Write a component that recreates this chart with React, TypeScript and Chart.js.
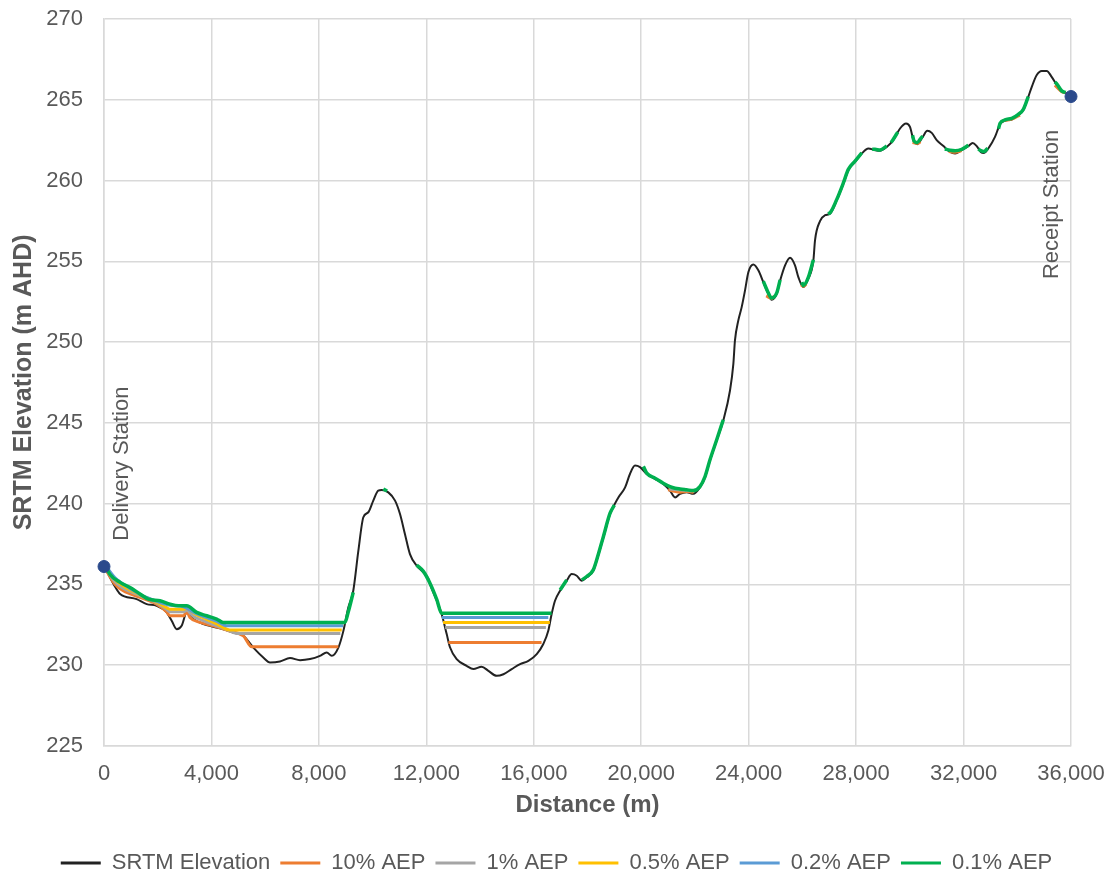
import React, { useEffect, useRef } from "react";
import { Chart, registerables } from "chart.js";
Chart.register(...registerables);

const FONT = '"Liberation Sans", Arial, Helvetica, sans-serif';
const TEXT = "#595959";

type P = [number, number | null];

// SRTM ground profile (distance, elevation)
const srtmD = [0, 430, 600, 1215, 1590, 1960, 2335, 2520, 2707, 2890, 3080, 3325, 3700, 4070, 4440, 4815, 5186, 5560, 5930, 6180, 6550, 6925, 7300, 7670, 8040, 8290, 8478, 8725, 8910, 9095, 9280, 9470, 9655, 9840, 10025, 10210, 10340, 10585, 10835, 11020, 11205, 11390, 11640, 11890, 12075, 12140, 12390, 12570, 12760, 12880, 13130, 13500, 13750, 14060, 14310, 14620, 14870, 15180, 15490, 15800, 16110, 16355, 16540, 16665, 16790, 16980, 17225, 17410, 17600, 17785, 17970, 18215, 18340, 18590, 18840, 19150, 19400, 19580, 19770, 19955, 20205, 20515, 20820, 21070, 21260, 21445, 21690, 21940, 22185, 22375, 22560, 22810, 23055, 23305, 23430, 23490, 23615, 23740, 23865, 23990, 24175, 24360, 24545, 24730, 24855, 25045, 25170, 25355, 25540, 25725, 25850, 26035, 26220, 26410, 26470, 26660, 26845, 27030, 27280, 27525, 27710, 27960, 28210, 28455, 28705, 28890, 29140, 29385, 29635, 29860, 30005, 30155, 30280, 30480, 30650, 30815, 31000, 31250, 31495, 31685, 31930, 32180, 32340, 32490, 32640, 32760, 32960, 33170, 33360, 33545, 33795, 34040, 34225, 34410, 34540, 34725, 34910, 35095, 35280, 35470, 35655, 35840, 36000];
const srtmV = [236.15, 234.8, 234.4, 234.08, 233.77, 233.67, 233.26, 232.74, 232.22, 232.43, 233.26, 232.85, 232.54, 232.37, 232.22, 232.01, 231.81, 231.08, 230.47, 230.16, 230.22, 230.43, 230.3, 230.37, 230.57, 230.78, 230.57, 231.08, 232.1, 233.56, 234.6, 237.08, 239.15, 239.46, 240.18, 240.8, 240.84, 240.69, 240.18, 239.35, 238.1, 236.87, 236.15, 235.74, 235.33, 235.0, 233.98, 233.16, 231.9, 231.1, 230.37, 229.95, 229.75, 229.9, 229.64, 229.33, 229.43, 229.75, 230.06, 230.26, 230.68, 231.3, 232.12, 233.16, 233.98, 234.6, 235.22, 235.63, 235.53, 235.22, 235.43, 235.84, 236.46, 237.9, 239.35, 240.38, 241.0, 241.83, 242.35, 242.25, 241.83, 241.52, 241.21, 240.8, 240.38, 240.6, 240.7, 240.6, 241.0, 241.62, 242.66, 243.9, 245.14, 247.0, 248.65, 250.1, 251.34, 252.16, 253.2, 254.33, 254.8, 254.44, 253.71, 252.99, 252.62, 252.99, 253.8, 254.75, 255.22, 254.75, 254.02, 253.4, 253.92, 255.06, 256.3, 257.5, 257.85, 257.95, 258.78, 259.8, 260.64, 261.15, 261.67, 261.98, 261.88, 261.84, 262.08, 262.5, 263.22, 263.53, 263.32, 262.39, 262.25, 262.7, 263.08, 262.95, 262.5, 262.13, 261.77, 261.67, 261.88, 262.13, 262.33, 262.13, 261.77, 261.71, 262.08, 262.7, 263.49, 263.7, 263.78, 264.05, 264.36, 265.18, 265.8, 266.53, 266.78, 266.78, 266.42, 265.91, 265.49, 265.4, 265.29];

// 10% AEP water surface (null = dry, line break)
const aep10: P[] = [
  [0, 236.1], [410, 235.0], [720, 234.6], [1340, 234.19], [1960, 233.77], [2330, 233.3], [2450, 233.05], [2960, 233.05], [3080, 233.3], [3200, 232.95], [3575, 232.64], [4070, 232.43], [4690, 232.1], [5186, 231.81], [5500, 231.13], [8725, 231.13], [8800, null],
  [12820, 231.4], [16290, 231.4], [16300, null],
  [21000, 240.85], [21445, 240.7], [21700, 240.75], [21950, 240.7], [22000, null],
  [24650, 252.85], [24855, 252.7], [24950, 252.85], [25000, null],
  [25950, 253.55], [26035, 253.45], [26150, 253.6], [26200, null],
  [30100, 262.35], [30280, 262.3], [30400, 262.4], [30450, null],
  [31450, 261.8], [31685, 261.75], [31930, 261.85], [32000, null],
  [33450, 263.7], [33795, 263.8], [34100, 264.05], [34150, null],
  [35400, 265.9], [35655, 265.5], [35800, 265.45], [35850, null],
];

// 1% AEP water surface
const aep1: P[] = [
  [0, 236.2], [410, 235.15], [720, 234.75], [1340, 234.3], [1960, 233.85], [2330, 233.45], [2450, 233.3], [2960, 233.3], [3080, 233.4], [3300, 233.05], [3700, 232.75], [4070, 232.5], [4560, 232.2], [4950, 231.96], [8800, 231.96], [8850, null],
  [12700, 232.33], [16450, 232.33], [16500, null],
  [21050, 240.9], [21900, 240.78], [21950, null],
];

// 0.5% AEP water surface
const aep05: P[] = [
  [0, 236.25], [410, 235.3], [720, 234.9], [1340, 234.35], [1960, 233.9], [2330, 233.55], [2450, 233.46], [2960, 233.46], [3080, 233.5], [3400, 233.15], [3800, 232.85], [4200, 232.55], [4690, 232.17], [8850, 232.17], [8880, null],
  [12620, 232.64], [16600, 232.64], [16620, null],
];

// 0.2% AEP water surface
const aep02: P[] = [
  [0, 236.3], [410, 235.4], [720, 235.0], [1340, 234.38], [1960, 233.95], [2457, 233.7], [2960, 233.6], [3400, 233.22], [3800, 232.95], [4200, 232.7], [4560, 232.43], [8900, 232.43], [8930, null],
  [12580, 232.95], [16540, 232.95], [16560, null],
];

// 0.1% AEP water surface
const aep01: P[] = [
  [0, 236.35], [225, 235.6], [600, 235.12], [970, 234.8], [1340, 234.4], [1650, 234.08], [2085, 233.98], [2457, 233.77], [2770, 233.67], [3080, 233.67], [3450, 233.26], [3825, 233.05], [4195, 232.85], [4440, 232.64], [8970, 232.64], [9095, 233.3], [9280, 234.5], [9300, null],
  [10400, 240.9], [10540, 240.78], [10560, null],
  [11640, 236.2], [11890, 235.8], [12140, 235.05], [12390, 234.05], [12570, 233.2], [16665, 233.2], [16700, null],
  [16980, 234.65], [17225, 235.27], [17300, null],
  [17785, 235.27], [17970, 235.48], [18215, 235.89], [18340, 236.5], [18590, 237.95], [18840, 239.4], [19000, 239.9], [19100, null],
  [20080, 242.3], [20205, 241.88], [20515, 241.57], [20820, 241.26], [21070, 241.05], [21260, 240.95], [21445, 240.9], [21690, 240.85], [21940, 240.8], [22185, 241.05], [22375, 241.67], [22560, 242.71], [22810, 243.95], [23055, 245.19], [23100, null],
  [24545, 253.76], [24730, 253.05], [24855, 252.72], [25045, 253.04], [25170, 253.85], [25200, null],
  [25980, 253.7], [26035, 253.5], [26220, 254.0], [26410, 255.1], [26450, null],
  [26950, 257.95], [27030, 258.0], [27280, 258.83], [27525, 259.85], [27710, 260.69], [27960, 261.2], [28210, 261.72], [28250, null],
  [28600, 261.93], [28705, 261.93], [28890, 261.89], [29140, 262.13], [29180, null],
  [29300, 262.35], [29385, 262.55], [29550, 263.0], [29600, null],
  [30100, 262.8], [30155, 262.45], [30280, 262.35], [30400, 262.6], [30480, 262.75], [30500, null],
  [31300, 261.95], [31495, 261.88], [31685, 261.85], [31930, 261.93], [32180, 262.18], [32200, null],
  [32550, 261.95], [32640, 261.85], [32760, 261.8], [32900, 262.0], [32950, null],
  [33300, 263.2], [33360, 263.54], [33545, 263.75], [33795, 263.85], [34040, 264.1], [34225, 264.41], [34410, 265.2], [34450, null],
  [35400, 266.1], [35470, 265.98], [35655, 265.55], [35800, 265.45], [35850, null],
];

// Stations
const stationNames = ["Delivery Station", "Receipt Station"];
const stationD = [0, 36000];
const stationV = [236.1, 265.2];
const stationLabelV = [237.7, 253.9];

const seriesNames = ["SRTM Elevation", "10% AEP", "1% AEP", "0.5% AEP", "0.2% AEP", "0.1% AEP"];
const seriesColors = ["#222222", "#ED7D31", "#A5A5A5", "#FFC000", "#5B9BD5", "#00B050"];

function pts(d: number[], v: (number | null)[]) {
  return d.map((x, i) => ({ x, y: v[i] }));
}
function pairs(p: P[]) {
  return p.map(([x, y]) => ({ x, y }));
}

const stationPlugin = {
  id: "stationLabels",
  afterDatasetsDraw(chart: any) {
    const { ctx, scales } = chart;
    const xs = scales.x;
    const ys = scales.y;
    ctx.save();
    ctx.fillStyle = TEXT;
    ctx.font = `22px ${FONT}`;
    ctx.textBaseline = "middle";
    ctx.textAlign = "left";
    const offsets = [18, -19];
    stationNames.forEach((name, i) => {
      ctx.save();
      ctx.translate(xs.getPixelForValue(stationD[i]) + offsets[i], ys.getPixelForValue(stationLabelV[i]));
      ctx.rotate(-Math.PI / 2);
      ctx.fillText(name, 0, 0);
      ctx.restore();
    });
    ctx.restore();
  },
};

export default function App() {
  const ref = useRef<HTMLCanvasElement | null>(null);
  useEffect(() => {
    document.body.style.margin = "0";
    const canvas = ref.current;
    if (!canvas) return;
    const series = [
      pts(srtmD, srtmV),
      pairs(aep10),
      pairs(aep1),
      pairs(aep05),
      pairs(aep02),
      pairs(aep01),
    ];
    const widths = [2, 3, 3, 3, 3, 3.5];
    const datasets: any[] = series.map((data, i) => ({
      label: seriesNames[i],
      data,
      borderColor: seriesColors[i],
      backgroundColor: seriesColors[i],
      borderWidth: widths[i],
      pointRadius: 0,
      cubicInterpolationMode: "monotone",
      spanGaps: false,
      order: 10 - i,
    }));
    datasets.push({
      type: "scatter",
      label: "Stations",
      data: pts(stationD, stationV),
      backgroundColor: "#2B4A8C",
      borderColor: "#2B4A8C",
      pointRadius: 6,
      showLine: false,
      clip: false,
      order: 0,
    });
    const chart = new Chart(canvas, {
      type: "line",
      data: { datasets },
      plugins: [stationPlugin],
      options: {
        responsive: false,
        animation: false,
        devicePixelRatio: 1,
        layout: { padding: { top: 0, right: 0, bottom: -3, left: 0 } },
        plugins: {
          tooltip: { enabled: false },
          legend: {
            position: "bottom",
            labels: {
              color: TEXT,
              font: { family: FONT, size: 22 },
              boxWidth: 40,
              boxHeight: 3,
              padding: 10,
              generateLabels: (c: any) =>
                c.data.datasets
                  .map((ds: any, i: number) => ({
                    text: ds.label,
                    fillStyle: ds.borderColor,
                    strokeStyle: ds.borderColor,
                    lineWidth: 0,
                    fontColor: TEXT,
                    datasetIndex: i,
                    hidden: false,
                  }))
                  .filter((it: any) => it.datasetIndex < seriesNames.length),
            },
          },
        },
        scales: {
          x: {
            type: "linear",
            min: 0,
            max: 36000,
            afterFit: (s: any) => {
              s.paddingLeft = 0;
              s.paddingRight = 42;
            },
            ticks: {
              stepSize: 4000,
              color: TEXT,
              font: { family: FONT, size: 22 },
              padding: 14.5,
              maxRotation: 0,
              callback: (v: any) => Number(v).toLocaleString("en-US"),
            },
            grid: { color: "#D9D9D9", lineWidth: 1.5, drawTicks: false },
            border: { color: "#D9D9D9", width: 1.5 },
            title: {
              display: true,
              text: "Distance (m)",
              color: TEXT,
              font: { family: FONT, size: 24, weight: "bold" },
              padding: { top: -10, bottom: 22 },
            },
          },
          y: {
            min: 225,
            max: 270,
            afterFit: (s: any) => {
              s.width = 104;
              s.paddingTop = 19;
              s.paddingBottom = 0;
            },
            ticks: {
              stepSize: 5,
              color: TEXT,
              font: { family: FONT, size: 22 },
              padding: 21,
            },
            grid: { color: "#D9D9D9", lineWidth: 1.5, drawTicks: false },
            border: { color: "#D9D9D9", width: 1.5 },
            title: {
              display: true,
              text: "SRTM Elevation (m AHD)",
              color: TEXT,
              font: { family: FONT, size: 25, weight: "bold" },
              padding: { top: 9, bottom: 0 },
            },
          },
        },
      },
    });
    return () => chart.destroy();
  }, []);
  return (
    <div style={{ width: 1113, height: 881 }}>
      <canvas ref={ref} width={1113} height={881} />
    </div>
  );
}
